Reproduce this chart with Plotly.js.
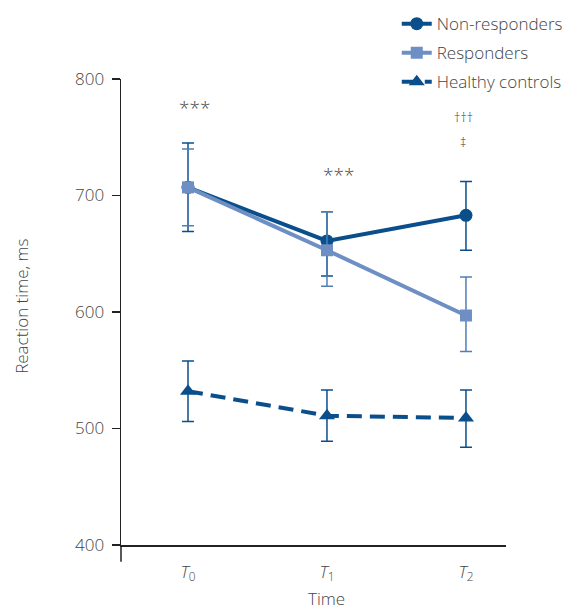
<!DOCTYPE html>
<html>
<head>
<meta charset="utf-8">
<script src="https://cdn.plot.ly/plotly-3.0.1.min.js"></script>
<style>html,body{margin:0;padding:0;background:#fff;}</style>
</head>
<body>
<div id="chart" style="width:575px;height:610px;"></div>
<script>
// Data
const timePoints = [0, 1, 2];
const tickLabels = ["<i>T</i><sub>0</sub>", "<i>T</i><sub>1</sub>", "<i>T</i><sub>2</sub>"];

const nonResponders = [707, 661, 683];
const nonRespondersErrPlus = [38, 25, 29];
const nonRespondersErrMinus = [38, 30, 30];

const responders = [707, 653, 597];
const respondersErrPlus = [33, 33, 33];
const respondersErrMinus = [33, 31, 31];

const healthyControls = [532, 511, 509];
const healthyErrPlus = [26, 22, 24];
const healthyErrMinus = [26, 22, 25];

const dark = "#0a4f8c";
const light = "#6d8fc3";
const txt = "#444444";
const font = "Open Sans, Roboto, sans-serif";
const fw = 300;
const fs = 17;

const traces = [
  {
    x: timePoints, y: nonResponders, name: "Non-responders", type: "scatter", mode: "lines+markers",
    legendgroup: "a",
    line: {color: dark, width: 4},
    marker: {symbol: "circle", size: 13, color: dark},
    error_y: {type: "data", symmetric: false, array: nonRespondersErrPlus, arrayminus: nonRespondersErrMinus,
              color: dark, thickness: 1.5, width: 6}
  },
  {
    x: timePoints, y: responders, name: "Responders", type: "scatter", mode: "lines+markers",
    legendgroup: "b",
    line: {color: light, width: 4},
    marker: {symbol: "square", size: 12, color: light},
    error_y: {type: "data", symmetric: false, array: respondersErrPlus, arrayminus: respondersErrMinus,
              color: "#4f7fb5", thickness: 1.5, width: 6}
  },
  {
    x: timePoints, y: healthyControls, name: "Healthy controls", type: "scatter", mode: "lines+markers",
    legendgroup: "c",
    line: {color: dark, width: 4, dash: "15px,8px"},
    marker: {symbol: "triangle-up", size: 14, color: dark},
    error_y: {type: "data", symmetric: false, array: healthyErrPlus, arrayminus: healthyErrMinus,
              color: dark, thickness: 1.5, width: 6}
  }
];

const layout = {
  width: 575, height: 610,
  margin: {l: 121, r: 69, t: 79, b: 65, autoexpand: false},
  paper_bgcolor: "#fff", plot_bgcolor: "#fff",
  font: {family: font, size: fs, color: txt, weight: fw},
  showlegend: true,
  legend: {
    xref: "container", yref: "container",
    x: 0.690, y: 0.990, xanchor: "left", yanchor: "top",
    font: {family: font, size: fs, color: txt, weight: fw},
    traceorder: "grouped", tracegroupgap: 4,
    bgcolor: "rgba(0,0,0,0)"
  },
  xaxis: {
    range: [-0.482, 2.288],
    tickvals: timePoints, ticktext: tickLabels,
    showgrid: false, zeroline: false,
    showline: true, linecolor: "#222", linewidth: 1.5,
    ticks: "", ticklabelstandoff: 11,
    tickfont: {family: font, size: fs, color: txt, weight: fw}
  },
  yaxis: {
    range: [400, 800],
    tickvals: [400, 500, 600, 700, 800],
    showgrid: false, zeroline: false,
    showline: true, linecolor: "#222", linewidth: 1.5,
    ticks: "outside", ticklen: 8, tickwidth: 1.2, tickcolor: "#222",
    ticklabelstandoff: 4,
    tickfont: {family: font, size: fs, color: txt, weight: fw}
  },
  shapes: [
    {type: "line", xref: "paper", yref: "paper", x0: 0, x1: 0, y0: 0, y1: -0.036,
     line: {color: "#222", width: 1.5}}
  ],
  annotations: [
    {x: 0, y: 0.511, xref: "paper", yref: "paper", xanchor: "center", yanchor: "middle", xshift: -99, textangle: -90,
     text: "Reaction time, ms", showarrow: false, font: {family: font, size: fs, color: txt, weight: fw}},
    {x: 0.05, y: 775, xref: "x", yref: "y", text: "***", showarrow: false, font: {family: font, size: 19, color: txt, weight: fw}},
    {x: 1.08, y: 718, xref: "x", yref: "y", text: "***", showarrow: false, font: {family: font, size: 19, color: txt, weight: fw}},
    {x: 1.98, y: 767, xref: "x", yref: "y", text: "†††", showarrow: false, font: {family: font, size: 13, color: "#333"}},
    {x: 1.98, y: 746, xref: "x", yref: "y", text: "‡", showarrow: false, font: {family: font, size: 13, color: "#333"}},
    {x: 1, y: 0, xref: "x", yref: "paper", yanchor: "middle", yshift: -53, text: "Time", showarrow: false,
     font: {family: font, size: fs, color: txt, weight: fw}}
  ]
};

Plotly.newPlot("chart", traces, layout, {displayModeBar: false, staticPlot: true});
</script>
</body>
</html>
